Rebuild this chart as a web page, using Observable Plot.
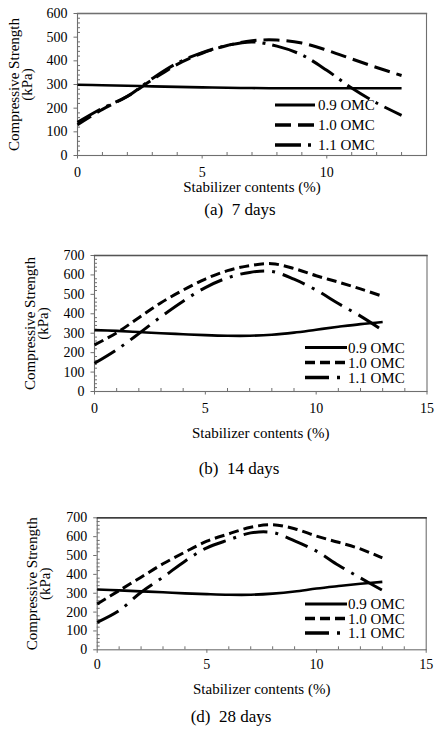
<!DOCTYPE html>
<html><head><meta charset="utf-8">
<script src="https://cdn.jsdelivr.net/npm/d3@7"></script>
<script src="https://cdn.jsdelivr.net/npm/@observablehq/plot@0.6"></script>
<style>
body{margin:0;background:#fff;}
#root{position:relative;width:435px;height:740px;font-family:"Liberation Serif","Times New Roman",serif;color:#000;overflow:hidden;}
.panel{position:absolute;left:0;}
.cap{position:absolute;transform:translate(-50%,-50%);font-size:17px;white-space:pre;}
#legend{position:absolute;left:0;top:0;}
</style></head><body><div id="root"></div>
<script>
// ---- data ----
const stabilizer = [0,1,2,3,4,5,6,7,8,9,10,11,12,13];
const series = ["0.9 OMC","1.0 OMC","1.1 OMC"];
const strength7_09  = [299,297,295,292,290,288,286,285,284,284,284,284,284,284];
const strength7_10  = [130,195,250,320,385,432,465,485,488,475,445,408,372,338];
const strength7_11  = [140,200,250,325,390,435,465,480,462,425,360,285,222,170];
const strength14_09 = [316,312,306,300,295,290,287,287,292,303,318,333,347,358];
const strength14_10 = [240,302,380,457,522,579,622,648,658,633,596,563,528,490];
const strength14_11 = [145,215,298,385,465,535,585,613,618,578,522,453,388,315];
const strength28_09 = [320,315,310,305,299,295,292,292,298,309,325,338,350,360];
const strength28_10 = [243,314,385,456,518,576,615,650,663,642,603,570,535,487];
const strength28_11 = [146,208,305,385,470,541,583,620,622,578,523,448,381,316];
const xTickLabels7 = [0,5,10];
const xTickLabels  = [0,5,10,15];
const yTickLabels7 = [0,100,200,300,400,500,600];
const yTickLabels  = [0,100,200,300,400,500,600,700];
const captions = ["(a)  7 days","(b)  14 days","(d)  28 days"];
const xTitle = "Stabilizer contents (%)";
const yTitle = ["Compressive Strength","(kPa)"];

// ---- layout / styles ----
const panels = [
  {values:[strength7_09,strength7_10,strength7_11], xMax:14, yMax:600, xLabels:xTickLabels7, yLabels:yTickLabels7,
   top:0, height:196, ml:77, mr:9, mt:13, mb:41, tickDy:17, titleDy:31.5, yTitleX:[14,27], topStroke:"#707070",
   dash:[null,"16,7","26,7,3,7"], cap:[240,210], leg:{x0:275,x1:315,tx:318,ys:[105,125,145]}},
  {values:[strength14_09,strength14_10,strength14_11], xMax:15, yMax:700, xLabels:xTickLabels, yLabels:yTickLabels,
   top:224, height:218, ml:94, mr:8.5, mt:31, mb:51, tickDy:17, titleDy:41.7, yTitleX:[30,43], topStroke:"#555",
   dash:[null,"10,5","24,8,3,8"], cap:[239,469], leg:{x0:305,x1:347,tx:348,ys:[347.5,362.5,377.5]}},
  {values:[strength28_09,strength28_10,strength28_11], xMax:15, yMax:700, xLabels:xTickLabels, yLabels:yTickLabels,
   top:496, height:201, ml:96.7, mr:9.3, mt:21.3, mb:47.7, tickDy:15, titleDy:39.7, yTitleX:[32,45], topStroke:"#222",
   dash:[null,"10,5","24,8,3,8"], cap:[231,717], leg:{x0:305,x1:347,tx:348,ys:[604,618.5,633]}}
];
const widths = [2.6,3,3];
const axisGray = "#6f6f6f";
const serif = "Liberation Serif";

const root = document.getElementById("root");

panels.forEach((p, pi) => {
  const pw = 435 - p.ml - p.mr, ph = p.height - p.mt - p.mb;
  const minorX = d3.range(0, p.xMax + 1).filter(v => v % 5 !== 0);
  const majorX = p.xLabels.filter(v => v <= p.xMax);
  const minorY = d3.range(0, p.yMax + 1, 20).filter(v => v % 100 !== 0);
  const marks = [
    Plot.frame({stroke: axisGray, strokeWidth: 1.1}),
    Plot.frame({anchor: "top", stroke: p.topStroke, strokeWidth: 1.3}),
    Plot.ruleX(minorX, {x: d => d, insetTop: ph - 3, stroke: axisGray}),
    Plot.ruleX(majorX, {x: d => d, insetTop: ph, insetBottom: -3.5, stroke: axisGray}),
    Plot.ruleY(minorY, {y: d => d, insetRight: pw - 3, stroke: axisGray}),
    Plot.ruleY(p.yLabels, {y: d => d, insetRight: pw, insetLeft: -3.5, stroke: axisGray}),
    Plot.text(p.xLabels, {x: d => d, frameAnchor: "bottom", dy: p.tickDy, lineAnchor: "middle", textAnchor: "middle", fontSize: 14, fontFamily: serif, fill: "#000"}),
    Plot.text(p.yLabels, {y: d => d, frameAnchor: "left", dx: -10, lineAnchor: "middle", textAnchor: "end", fontSize: 14, fontFamily: serif, fill: "#000"}),
    Plot.text([xTitle], {frameAnchor: "bottom", dy: p.titleDy, lineAnchor: "middle", fontSize: 15, fontFamily: serif, fill: "#000"}),
    ...yTitle.map((t, k) => Plot.text([t], {frameAnchor: "left", dx: p.yTitleX[k] - p.ml, rotate: -90, lineAnchor: "middle", textAnchor: "middle", fontSize: 15, fontFamily: serif, fill: "#000"}))
  ];
  series.forEach((s, j) => {
    const data = stabilizer.map((x, i) => ({x, y: p.values[j][i]}));
    marks.push(Plot.line(data, {x: "x", y: "y", curve: "catmull-rom", stroke: "#000", strokeWidth: widths[j],
      strokeDasharray: p.dash[j] || undefined, strokeLinecap: "butt"}));
  });
  const chart = Plot.plot({
    width: 435, height: p.height,
    marginLeft: p.ml, marginRight: p.mr, marginTop: p.mt, marginBottom: p.mb,
    x: {domain: [0, p.xMax], axis: null},
    y: {domain: [0, p.yMax], axis: null},
    style: {fontFamily: serif, color: "#000", background: "transparent", overflow: "visible"},
    marks
  });
  chart.classList.add("panel");
  chart.style.top = p.top + "px";
  root.appendChild(chart);

  const cap = document.createElement("div");
  cap.className = "cap";
  cap.textContent = captions[pi];
  cap.style.left = p.cap[0] + "px";
  cap.style.top = p.cap[1] + "px";
  root.appendChild(cap);
});

// ---- legends (one per panel) ----
const leg = d3.select(root).append("svg").attr("id", "legend").attr("width", 435).attr("height", 740);
panels.forEach(p => {
  series.forEach((s, j) => {
    const y = p.leg.ys[j];
    leg.append("line").attr("x1", p.leg.x0).attr("x2", p.leg.x1).attr("y1", y).attr("y2", y)
      .attr("stroke", "#000").attr("stroke-width", widths[j] + 0.4)
      .attr("stroke-dasharray", p.dash[j]);
    leg.append("text").attr("x", p.leg.tx).attr("y", y).attr("dy", "0.35em")
      .attr("font-family", serif).attr("font-size", 15).text(s);
  });
});
</script></body></html>
